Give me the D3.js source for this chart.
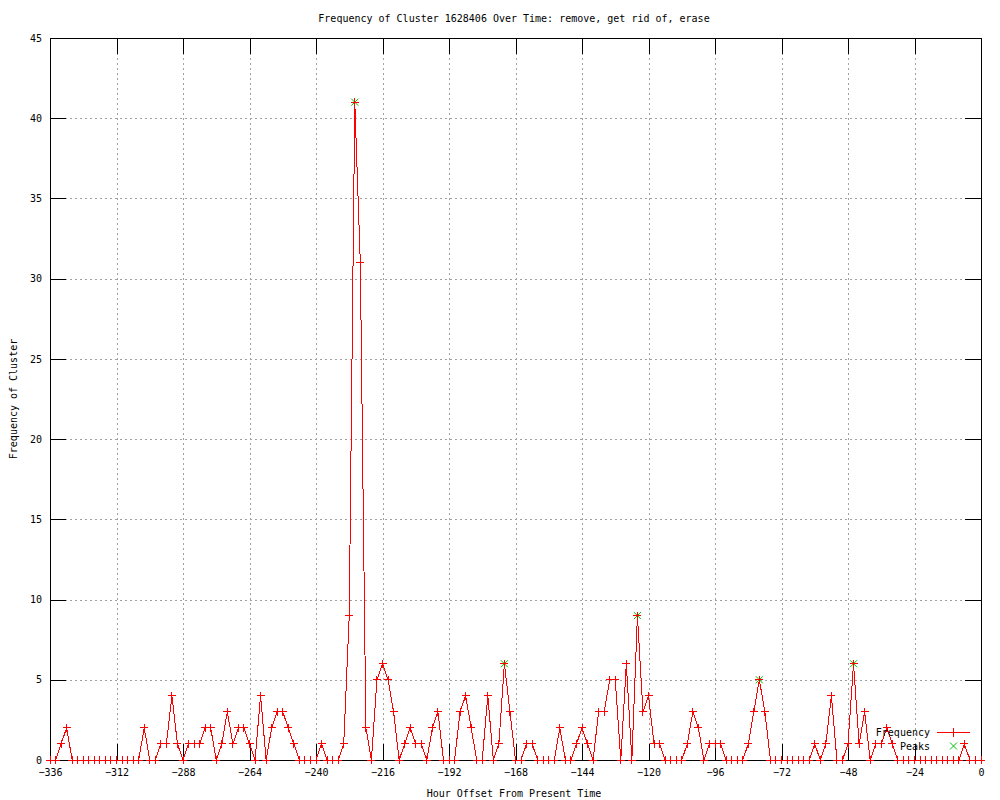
<!DOCTYPE html>
<html>
<head>
<meta charset="utf-8">
<script src="https://cdn.jsdelivr.net/npm/d3@7"></script>
<style>
  body { margin: 0; background: #fff; }
  svg text { font-family: "DejaVu Sans Mono", monospace; font-size: 10px; fill: #000; }
</style>
</head>
<body>
<div id="chart"></div>
<script>
// hour offsets (every 2 hours)
const hours = [
  -336,-334,-332,-330,-328,-326,-324,-322,-320,-318,-316,-314,
  -312,-310,-308,-306,-304,-302,-300,-298,-296,-294,-292,-290,
  -288,-286,-284,-282,-280,-278,-276,-274,-272,-270,-268,-266,
  -264,-262,-260,-258,-256,-254,-252,-250,-248,-246,-244,-242,
  -240,-238,-236,-234,-232,-230,-228,-226,-224,-222,-220,-218,
  -216,-214,-212,-210,-208,-206,-204,-202,-200,-198,-196,-194,
  -192,-190,-188,-186,-184,-182,-180,-178,-176,-174,-172,-170,
  -168,-166,-164,-162,-160,-158,-156,-154,-152,-150,-148,-146,
  -144,-142,-140,-138,-136,-134,-132,-130,-128,-126,-124,-122,
  -120,-118,-116,-114,-112,-110,-108,-106,-104,-102,-100,-98,
  -96,-94,-92,-90,-88,-86,-84,-82,-80,-78,-76,-74,
  -72,-70,-68,-66,-64,-62,-60,-58,-56,-54,-52,-50,
  -48,-46,-44,-42,-40,-38,-36,-34,-32,-30,-28,-26,
  -24,-22,-20,-18,-16,-14,-12,-10,-8,-6,-4,-2,
  0
];
const frequency = [
  0,0,1,2,0,0,0,0,0,0,0,0,
  0,0,0,0,0,2,0,0,1,1,4,1,
  0,1,1,1,2,2,0,1,3,1,2,2,
  1,0,4,0,2,3,3,2,1,0,0,0,
  0,1,0,0,0,1,9,41,31,2,0,5,
  6,5,3,0,1,2,1,1,0,2,3,0,
  0,0,3,4,2,0,0,4,0,1,6,3,
  0,0,1,1,0,0,0,0,2,0,0,1,
  2,1,0,3,3,5,5,0,6,0,9,3,
  4,1,1,0,0,0,0,1,3,2,0,1,
  1,1,0,0,0,0,1,3,5,3,0,0,
  0,0,0,0,0,0,1,0,1,4,0,0,
  1,6,1,3,0,1,1,2,1,0,0,0,
  0,0,0,0,0,0,0,0,0,1,0,0,
  0
];
const peakHours = [-226, -172, -124, -80, -46];
const peakValues = [41, 6, 9, 5, 6];

const xTicks = [-336,-312,-288,-264,-240,-216,-192,-168,-144,-120,-96,-72,-48,-24,0];
const yTicks = [0,5,10,15,20,25,30,35,40,45];

const title = "Frequency of Cluster 1628406 Over Time: remove, get rid of, erase";
const xLabel = "Hour Offset From Present Time";
const yLabel = "Frequency of Cluster";

const width = 1000, height = 800;
const margin = {top: 38, right: 19, bottom: 40, left: 50};
const plotW = width - margin.left - margin.right;
const plotH = height - margin.top - margin.bottom;

const svg = d3.select('#chart').append('svg')
    .attr('width', width)
    .attr('height', height);

const g = svg.append('g')
    .attr('transform', 'translate(' + margin.left + ',' + margin.top + ')');

const x = d3.scaleLinear().domain([-336, 0]).range([0, plotW]);
const y = d3.scaleLinear().domain([0, 45]).range([plotH, 0]);

// grid
g.append('g').selectAll('line').data(xTicks).join('line')
    .attr('x1', d => Math.round(x(d)) + 0.5).attr('x2', d => Math.round(x(d)) + 0.5)
    .attr('y1', 0).attr('y2', plotH)
    .attr('stroke', '#a0a0a0').attr('stroke-dasharray', '2,3');
g.append('g').selectAll('line').data(yTicks).join('line')
    .attr('y1', d => Math.round(y(d)) + 0.5).attr('y2', d => Math.round(y(d)) + 0.5)
    .attr('x1', 0).attr('x2', plotW)
    .attr('stroke', '#a0a0a0').attr('stroke-dasharray', '2,3');

// axes, ticks pointing inward
const tick = 16;
const xAxis = g.append('g').attr('transform', 'translate(0,' + plotH + ')')
    .call(d3.axisBottom(x).tickValues(xTicks).tickSize(-tick).tickPadding(9).tickSizeOuter(0));
const xTop = g.append('g')
    .call(d3.axisTop(x).tickValues(xTicks).tickSize(-tick).tickFormat('').tickSizeOuter(0));
const yAxis = g.append('g')
    .call(d3.axisLeft(y).tickValues(yTicks).tickSize(-tick).tickPadding(8).tickSizeOuter(0));
const yRight = g.append('g').attr('transform', 'translate(' + plotW + ',0)')
    .call(d3.axisRight(y).tickValues(yTicks).tickSize(-tick).tickFormat('').tickSizeOuter(0));
[xAxis, xTop, yAxis, yRight].forEach(a => {
    a.select('.domain').remove();
    a.selectAll('line').attr('stroke', '#000').attr('shape-rendering', 'crispEdges');
    a.selectAll('text').attr('font-family', null).attr('font-size', null);
});

// frame
g.append('rect')
    .attr('x', 0.5).attr('y', 0.5)
    .attr('width', plotW).attr('height', plotH)
    .attr('fill', 'none').attr('stroke', '#000')
    .attr('shape-rendering', 'crispEdges');

const points = hours.map((h, i) => ({h: h, v: frequency[i]}));
const peaks = peakHours.map((h, i) => ({h: h, v: peakValues[i]}));

const red = '#ff0000', green = '#00c000';
const plus = (sel, s) => sel.append('path')
    .attr('d', d => 'M' + (x(d.h) - s) + ',' + y(d.v) + 'H' + (x(d.h) + s) +
                    'M' + x(d.h) + ',' + (y(d.v) - s) + 'V' + (y(d.v) + s));
const cross = (sel, s) => sel.append('path')
    .attr('d', d => 'M' + (x(d.h) - s) + ',' + (y(d.v) - s) + 'L' + (x(d.h) + s) + ',' + (y(d.v) + s) +
                    'M' + (x(d.h) - s) + ',' + (y(d.v) + s) + 'L' + (x(d.h) + s) + ',' + (y(d.v) - s));

// peaks (green x)
g.append('g').selectAll('g').data(peaks).join('g')
    .call(sel => cross(sel, 3.5))
    .selectAll('path').attr('stroke', green).attr('fill', 'none');

// frequency line + markers
g.append('path').datum(points)
    .attr('fill', 'none').attr('stroke', red).attr('stroke-width', 1)
    .attr('shape-rendering', 'crispEdges')
    .attr('d', d3.line().x(d => x(d.h)).y(d => y(d.v)));
g.append('g').selectAll('g').data(points).join('g')
    .call(sel => plus(sel, 4))
    .selectAll('path').attr('stroke', red).attr('fill', 'none')
    .attr('shape-rendering', 'crispEdges');

// legend
const leg = g.append('g');
leg.append('text').attr('x', 880).attr('y', 694).attr('dy', '0.35em')
    .attr('text-anchor', 'end').text('Frequency');
leg.append('line').attr('x1', 887).attr('x2', 920).attr('y1', 694.5).attr('y2', 694.5)
    .attr('stroke', red);
leg.append('path').attr('d', 'M899,694.5H907M903.5,690V699').attr('stroke', red)
    .attr('shape-rendering', 'crispEdges');
leg.append('text').attr('x', 880).attr('y', 708).attr('dy', '0.35em')
    .attr('text-anchor', 'end').text('Peaks');
leg.append('path').attr('d', 'M900,704.5L907,711.5M900,711.5L907,704.5').attr('stroke', green);

// titles
svg.append('text').attr('x', 514).attr('y', 18).attr('dy', '0.35em')
    .attr('text-anchor', 'middle').text(title);
svg.append('text').attr('x', 514).attr('y', 793).attr('dy', '0.35em')
    .attr('text-anchor', 'middle').text(xLabel);
svg.append('text').attr('transform', 'translate(13,399) rotate(-90)').attr('dy', '0.35em')
    .attr('text-anchor', 'middle').text(yLabel);
</script>
</body>
</html>
